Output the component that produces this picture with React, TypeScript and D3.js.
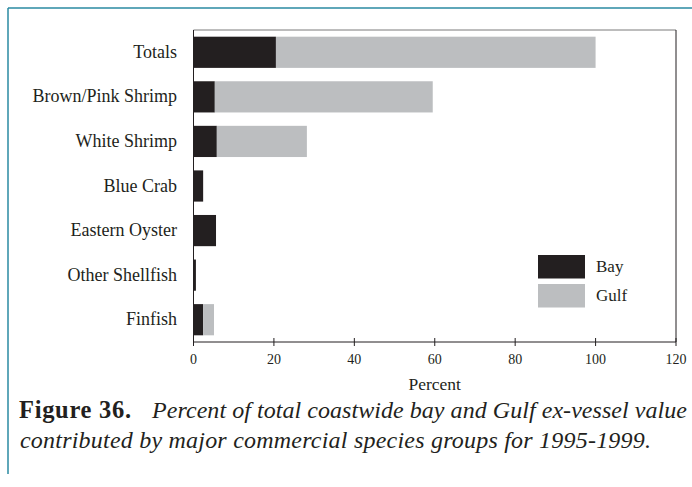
import React from "react";
import * as d3 from "d3";

const categories = ["Totals", "Brown/Pink Shrimp", "White Shrimp", "Blue Crab", "Eastern Oyster", "Other Shellfish", "Finfish"];
const bayValues = [20.5, 5.3, 5.8, 2.4, 5.6, 0.6, 2.4];
const gulfValues = [79.5, 54.2, 22.4, 0, 0, 0, 2.7];
const xTicks = [0, 20, 40, 60, 80, 100, 120];
const seriesNames = ["Bay", "Gulf"];
const seriesColors = ["#231f20", "#bcbec0"];

const W = 692;
const H = 487;
const left = 193.5, right = 676, top = 30, bottom = 342;
const FONT = "Liberation Serif, Times New Roman, serif";

export default function App() {
  const x = d3.scaleLinear().domain([0, 120]).range([left, right]);
  const y = d3.scaleBand<string>().domain(categories).range([top, bottom]).paddingInner(0.3).paddingOuter(0.15);
  const rows = categories.map((c, i) => ({ c, bay: bayValues[i], gulf: gulfValues[i] }));
  const stack = d3.stack<any>().keys(["bay", "gulf"])(rows as any);

  return (
    <svg width={W} height={H} style={{ position: "absolute", left: 0, top: 0, background: "#fff" }} fontFamily={FONT}>
      {/* teal frame */}
      <line x1={8} y1={8} x2={W} y2={8} stroke="#2a8aa2" strokeWidth={1.5} />
      <line x1={8} y1={8} x2={8} y2={474} stroke="#2a8aa2" strokeWidth={1.5} />

      {/* bars */}
      {stack.map((s, si) =>
        s.map((d, i) =>
          d[1] - d[0] > 0 ? (
            <rect
              key={si + "-" + i}
              x={x(d[0])}
              y={y(categories[i])}
              width={x(d[1]) - x(d[0])}
              height={y.bandwidth()}
              fill={seriesColors[si]}
            />
          ) : null
        )
      )}

      {/* plot frame */}
      <line x1={left} y1={top} x2={right} y2={top} stroke="#7a7a7a" strokeWidth={1} />
      <line x1={right} y1={top} x2={right} y2={bottom} stroke="#231f20" strokeWidth={1} />
      <line x1={left} y1={top} x2={left} y2={bottom} stroke="#231f20" strokeWidth={1} />
      <line x1={left} y1={bottom} x2={right} y2={bottom} stroke="#231f20" strokeWidth={1} />

      {/* x ticks */}
      {xTicks.map((t) => (
        <g key={t}>
          <line x1={x(t)} x2={x(t)} y1={bottom - 4} y2={bottom + 4} stroke="#231f20" strokeWidth={1} />
          <text x={x(t)} y={364} textAnchor="middle" fontSize={14} fill="#231f20">
            {t}
          </text>
        </g>
      ))}
      <text x={(left + right) / 2} y={390} textAnchor="middle" fontSize={17.5} fill="#231f20">
        Percent
      </text>

      {/* category labels */}
      {categories.map((c) => (
        <text key={c} x={177} y={(y(c) as number) + y.bandwidth() / 2 + 5.5} textAnchor="end" fontSize={18} fill="#231f20">
          {c}
        </text>
      ))}

      {/* legend */}
      {seriesNames.map((n, i) => (
        <g key={n}>
          <rect x={538} y={255 + i * 29} width={47} height={23.5} fill={seriesColors[i]} />
          <text x={596} y={255 + i * 29 + 17} fontSize={17} fill="#231f20">
            {n}
          </text>
        </g>
      ))}

      {/* caption */}
      <text x={19} y={418} fontSize={24.5} fontWeight="bold" fill="#231f20" textLength={112} lengthAdjust="spacing">
        Figure 36.
      </text>
      <text x={152} y={418} fontSize={24} fontStyle="italic" fill="#231f20" textLength={535} lengthAdjust="spacing">
        Percent of total coastwide bay and Gulf ex-vessel value
      </text>
      <text x={20} y={448} fontSize={24} fontStyle="italic" fill="#231f20" textLength={631} lengthAdjust="spacing">
        contributed by major commercial species groups for 1995-1999.
      </text>
    </svg>
  );
}
